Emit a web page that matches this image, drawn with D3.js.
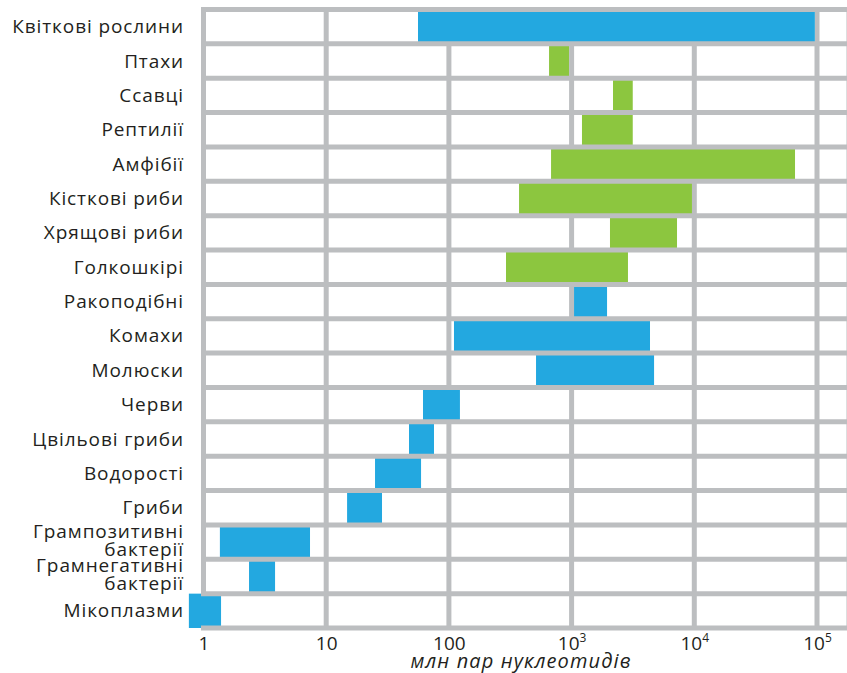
<!DOCTYPE html>
<html>
<head>
<meta charset="utf-8">
<script src="https://cdn.jsdelivr.net/npm/d3@7"></script>
<style>
  html, body { margin: 0; padding: 0; background: #fff; }
  svg { display: block; }
  text { font-family: "Open Sans", "Noto Sans", sans-serif; fill: #231f20; }
</style>
</head>
<body>
<svg id="chart" width="847" height="673"></svg>
<script>
// Genome size ranges (million base pairs) for groups of organisms
const categories = [
  "Квіткові рослини", "Птахи", "Ссавці", "Рептилії", "Амфібії",
  "Кісткові риби", "Хрящові риби", "Голкошкірі", "Ракоподібні", "Комахи",
  "Молюски", "Черви", "Цвільові гриби", "Водорості", "Гриби",
  "Грампозитивні бактерії", "Грамнегативні бактерії", "Мікоплазми"
];
const minValues = [56, 655, 2175, 1215, 680, 373, 2055, 292, 1047, 110,
                   513, 61.5, 47.3, 25, 14.8, 1.36, 2.35, 0.76];
const maxValues = [96000, 953, 3150, 3150, 66200, 9570, 7230, 2880, 1945, 4355,
                   4700, 123, 75.6, 59.3, 28.5, 7.38, 3.83, 1.39];
// Deuterostome groups are highlighted
const deuterostomes = ["Птахи", "Ссавці", "Рептилії", "Амфібії",
                       "Кісткові риби", "Хрящові риби", "Голкошкірі"];
const tickValues = [1, 10, 100, 1e3, 1e4, 1e5];
const axisTitle = "млн пар нуклеотидів";

const rows = categories.map((c, i) => ({ name: c, lo: minValues[i], hi: maxValues[i] }));

const svg = d3.select("#chart");
const W = 847, H = 673;
const gridColor = "#bcbec0", gridW = 5;
const blue = "#23a8e0", green = "#8cc63f";

const x = d3.scaleLog().domain([1, 1e5]).range([203.5, 817]);
const y = d3.scaleBand().domain(categories).range([9.5, 628]).padding(0);

svg.append("rect").attr("width", W).attr("height", H).attr("fill", "#fff");

// vertical grid lines (decades), left frame included
svg.append("g").selectAll("line").data(tickValues).join("line")
  .attr("x1", d => x(d)).attr("x2", d => x(d))
  .attr("y1", y.range()[0]).attr("y2", y.range()[1])
  .attr("stroke", gridColor).attr("stroke-width", gridW);
svg.append("line")
  .attr("x1", 849).attr("x2", 849)
  .attr("y1", y.range()[0]).attr("y2", y.range()[1])
  .attr("stroke", gridColor).attr("stroke-width", gridW);

// range bars
svg.append("g").selectAll("rect").data(rows).join("rect")
  .attr("x", d => x(d.lo))
  .attr("width", d => x(d.hi) - x(d.lo))
  .attr("y", d => y(d.name))
  .attr("height", y.bandwidth())
  .attr("fill", d => deuterostomes.includes(d.name) ? green : blue);

// horizontal row separators on top of the bars
const bounds = categories.map(c => y(c)).concat([y.range()[1]]);
svg.append("g").selectAll("line").data(bounds).join("line")
  .attr("x1", x(1) - gridW / 2).attr("x2", W)
  .attr("y1", d => d).attr("y2", d => d)
  .attr("stroke", gridColor).attr("stroke-width", gridW);

// row labels
const labelX = 184;
const labels = svg.append("g").attr("font-size", 19).attr("letter-spacing", 0.9)
  .attr("text-anchor", "end");
rows.forEach(d => {
  const twoLine = d.name.includes("бактерії");
  const parts = twoLine ? [d.name.replace(" бактерії", ""), "бактерії"] : [d.name];
  const cy = y(d.name) + y.bandwidth() / 2;
  const lh = 18.5;
  const t = labels.append("text").attr("x", labelX)
    .attr("y", twoLine ? cy - 4.5 : cy + 6.5);
  parts.forEach((p, i) => {
    t.append("tspan").attr("x", labelX).attr("dy", i === 0 ? 0 : lh).text(p);
  });
});

// x axis with power-of-ten labels
const axis = d3.axisBottom(x).tickValues(tickValues).tickSize(0).tickPadding(0)
  .tickFormat(d => d);
const ax = svg.append("g").attr("transform", `translate(0,${650})`).call(axis);
ax.select(".domain").remove();
ax.selectAll(".tick text")
  .attr("y", 0).attr("dy", 0)
  .attr("font-family", "\"Open Sans\", sans-serif")
  .attr("font-size", 19).attr("fill", "#231f20")
  .each(function(d) {
    const el = d3.select(this);
    const p = Math.round(Math.log10(d));
    el.text(null);
    if (p <= 2) {
      el.text(String(d));
    } else {
      el.append("tspan").text("10");
      el.append("tspan").attr("font-size", 12).attr("dy", -8).text(String(p));
    }
  });

svg.append("text")
  .attr("x", 521).attr("y", 668)
  .attr("text-anchor", "middle")
  .attr("font-size", 20).attr("letter-spacing", 1.1).attr("font-style", "italic")
  .text(axisTitle);
</script>
</body>
</html>
